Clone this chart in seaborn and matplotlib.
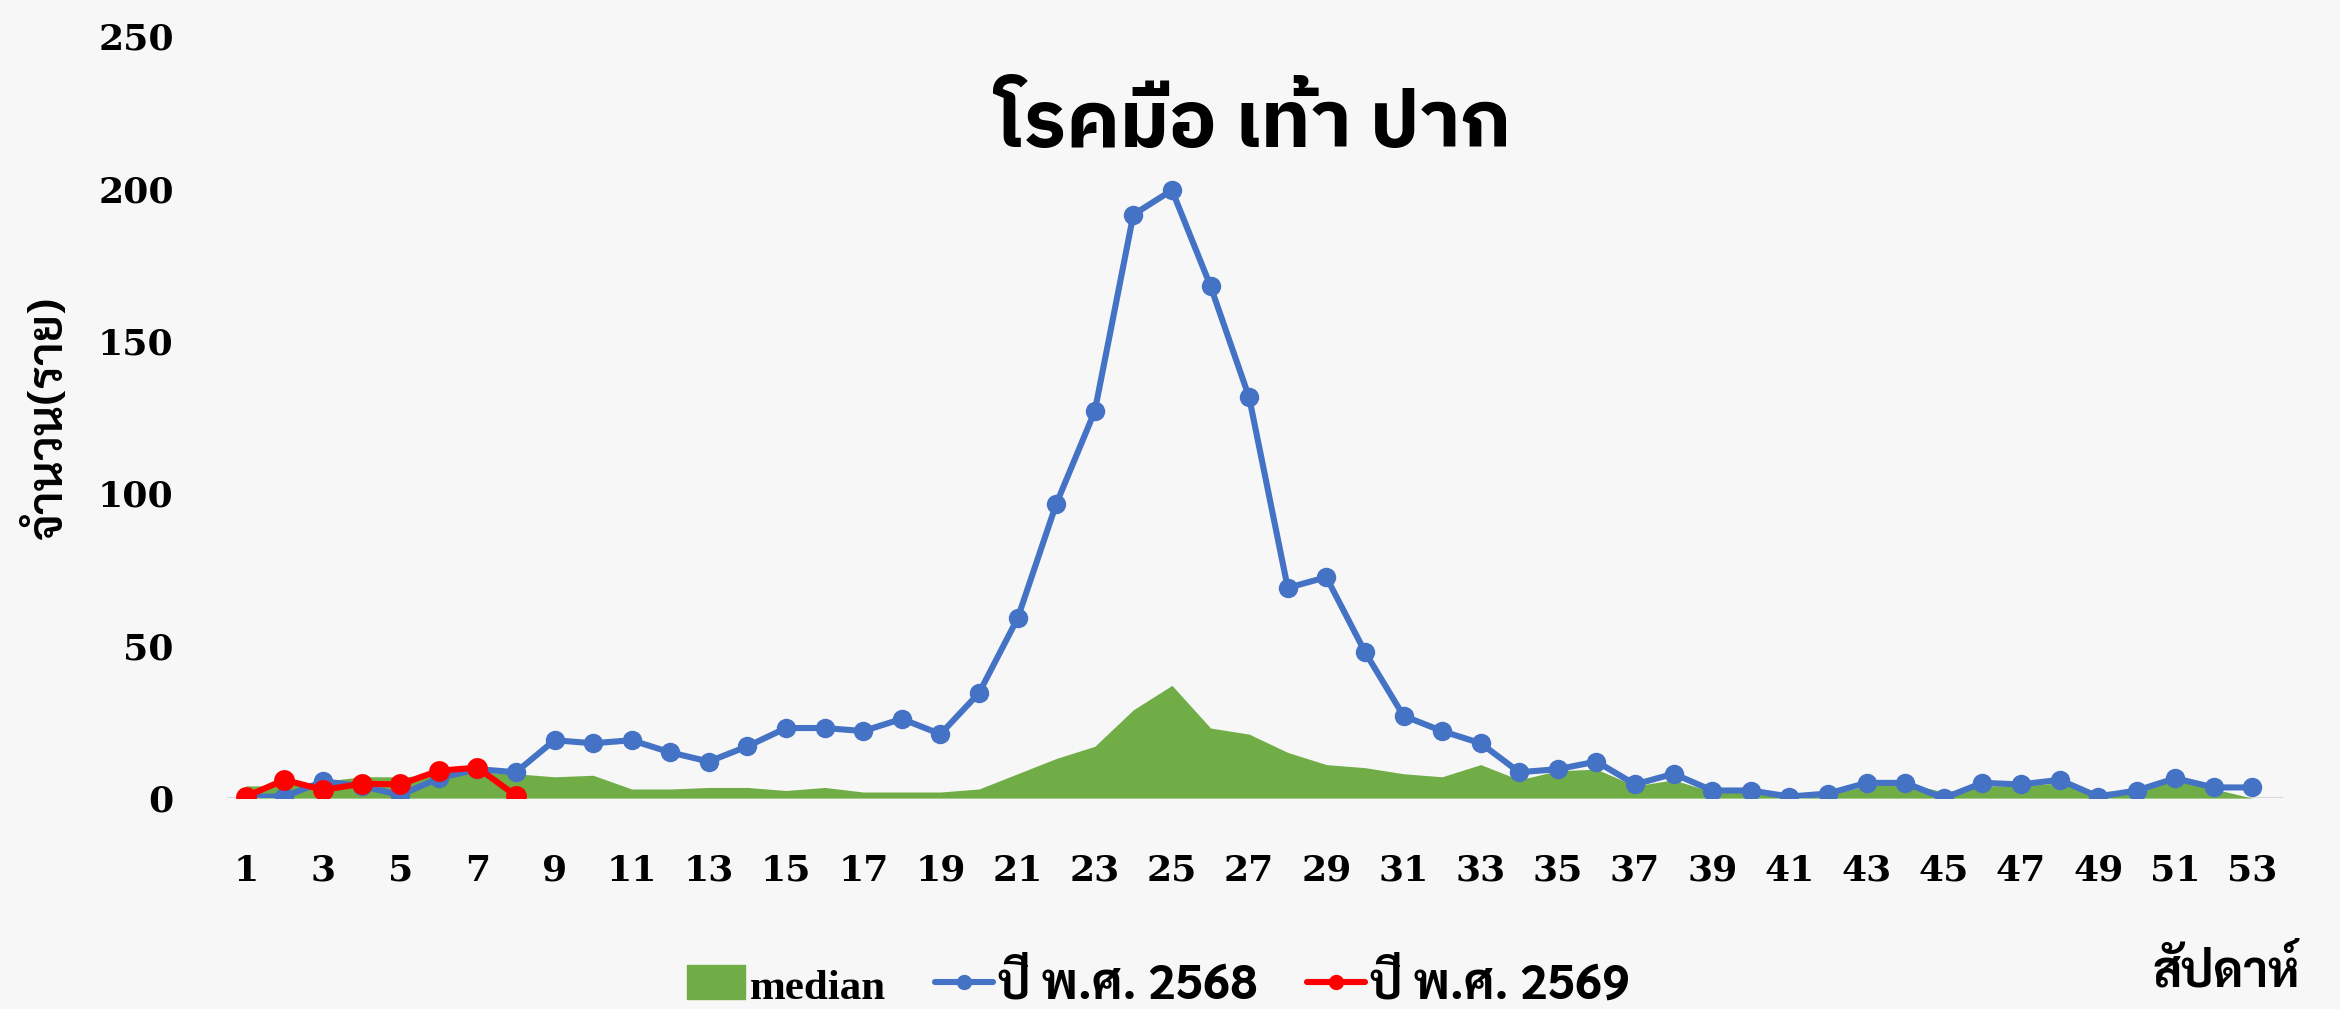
import pandas as pd
import matplotlib.pyplot as plt
import seaborn as sns
from matplotlib.patches import Patch
from matplotlib.lines import Line2D

# ข้อมูลรายสัปดาห์
weeks = list(range(1, 54))
median = [4, 4, 5.5, 7, 7, 7.5, 8.5, 8, 7, 7.5, 3, 3, 3.5, 3.5, 2.5, 3.5, 2, 2, 2, 3,
          8, 13, 17, 29, 37, 23, 21, 15, 11, 10, 8, 7, 11, 6, 9, 9.5, 4, 6, 2, 2,
          0.5, 1, 4, 5, 2, 4, 4, 5, 2, 3, 6, 3, 0]
y2568 = [0.5, 0.5, 5.5, 4, 1, 6.5, 9.5, 8.5, 19, 18, 19, 15, 12, 17, 23, 23, 22, 26, 21, 34.5,
         59, 96.5, 127, 191.5, 199.5, 168, 131.5, 69, 72.5, 48, 27, 22, 18, 8.5, 9.5, 12, 4.5, 8, 2.5, 2.5,
         0.5, 1.5, 5, 5, 0, 5, 4.5, 6, 0.5, 2.5, 6.5, 3.5, 3.5]
weeks_2569 = list(range(1, 9))
y2569 = [0.5, 6, 2.7, 4.7, 4.5, 9, 10, 0.8]
xticks = list(range(1, 54, 2))
yticks = [0, 50, 100, 150, 200, 250]

df = pd.DataFrame({'week': weeks, 'median': median, 'y2568': y2568})
df69 = pd.DataFrame({'week': weeks_2569, 'y2569': y2569})

sns.set_theme(style='white')
plt.rcParams['font.family'] = ['Sarabun', 'DejaVu Sans']
plt.rcParams['text.color'] = 'black'
plt.rcParams['xtick.color'] = 'black'
plt.rcParams['ytick.color'] = 'black'

bg = '#f7f7f7'
fig = plt.figure(figsize=(23.4, 10.09), dpi=100, facecolor=bg)
ax = fig.add_axes([0.0968, 0.209, 0.879, 0.755], facecolor=bg)

ax.fill_between(df['week'], df['median'], 0, color='#70ad47', linewidth=0)
sns.lineplot(data=df, x='week', y='y2568', ax=ax, color='#4472c4', linewidth=4.4,
             marker='o', markersize=14, markeredgewidth=0)
sns.lineplot(data=df69, x='week', y='y2569', ax=ax, color='#ff0000', linewidth=4.4,
             marker='o', markersize=15, markeredgewidth=0)
ax.axhline(0, color='#d9d9d9', linewidth=1.5, zorder=0)

ax.set_xlim(0.5, 53.8)
ax.set_ylim(0, 250)
ax.set_xticks(xticks)
ax.set_yticks(yticks)
ax.set_xticklabels([str(v) for v in xticks], family='DejaVu Serif', fontweight='bold', fontsize=26)
ax.set_yticklabels([str(v) for v in yticks], family='DejaVu Serif', fontweight='bold', fontsize=26)
ax.tick_params(axis='x', length=0, pad=40)
ax.tick_params(axis='y', length=0, pad=38)
ax.set_xlabel('')
ax.set_ylabel('')
sns.despine(ax=ax, left=True, bottom=True)

fig.text(0.536, 0.876, 'โรคมือ เท้า ปาก', ha='center', va='center', fontsize=57,
         fontweight='bold', family=['IBM Plex Sans Thai', 'DejaVu Sans'])
fig.text(0.021, 0.586, 'จำนวน(ราย)', ha='center', va='center', rotation=90, fontsize=34, fontweight=600)
fig.text(0.983, 0.036, 'สัปดาห์', ha='right', va='center', fontsize=35, fontweight='bold')

handles = [Patch(color='#70ad47'),
           Line2D([], [], color='#4472c4', linewidth=4.4, marker='o', markersize=10),
           Line2D([], [], color='#ff0000', linewidth=4.4, marker='o', markersize=10)]
leg = fig.legend(handles, ['median', 'ปี พ.ศ. 2568', 'ปี พ.ศ. 2569'], loc='center',
                 bbox_to_anchor=(0.495, 0.023), ncol=3, frameon=False, fontsize=35,
                 handlelength=1.2, handletextpad=0.1, columnspacing=1.0)
texts = leg.get_texts()
texts[0].set_family(['Liberation Serif'])
texts[0].set_fontsize(31)
for t in texts:
    t.set_fontweight('bold')

fig.savefig('out.png', dpi=100, facecolor=bg)
